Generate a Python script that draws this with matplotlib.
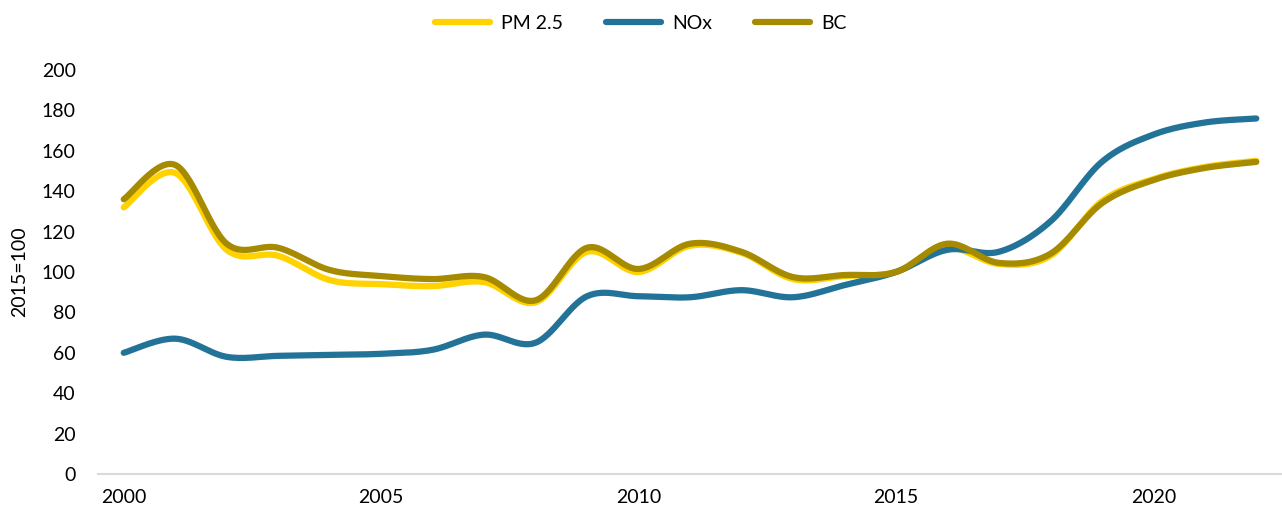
import numpy as np
import matplotlib
matplotlib.use("Agg")
import matplotlib.pyplot as plt

years = list(range(2000, 2023))
pm25 = [132, 149, 111, 108, 96, 94, 93, 95, 85, 110, 100, 113, 109.5, 96.5, 98, 100, 112, 104, 108, 135, 146, 152, 155]
nox = [60, 67, 58, 58.5, 59, 59.5, 61.5, 69, 65, 88, 88, 87.5, 91, 87.5, 93.5, 100, 111, 110, 125, 154.5, 168, 174, 176]
bc = [136, 153, 114, 112, 101, 98, 96.5, 97.5, 86, 112, 101.5, 114, 110, 97.5, 98.5, 100, 114, 104.5, 109, 134, 145.5, 151.5, 154.5]

series_names = ["PM 2.5", "NOx", "BC"]
colors = ["#FFD200", "#237399", "#A68A00"]
y_ticks = list(range(0, 201, 20))
x_ticks = [2000, 2005, 2010, 2015, 2020]


def smooth(x, y, n=30):
    x = np.asarray(x, float)
    y = np.asarray(y, float)
    px = np.concatenate([[x[0]], x, [x[-1]]])
    py = np.concatenate([[y[0]], y, [y[-1]]])
    xs, ys = [], []
    t = np.linspace(0, 1, n)
    for i in range(1, len(px) - 2):
        p0 = np.array([px[i], py[i]])
        p3 = np.array([px[i + 1], py[i + 1]])
        c1 = p0 + (np.array([px[i + 1], py[i + 1]]) - np.array([px[i - 1], py[i - 1]])) / 6
        c2 = p3 - (np.array([px[i + 2], py[i + 2]]) - np.array([px[i], py[i]])) / 6
        b = ((1 - t) ** 3)[:, None] * p0 + (3 * (1 - t) ** 2 * t)[:, None] * c1 \
            + (3 * (1 - t) * t ** 2)[:, None] * c2 + (t ** 3)[:, None] * p3
        xs.extend(b[:, 0])
        ys.extend(b[:, 1])
    return np.array(xs), np.array(ys)


plt.rcParams['font.family'] = ['Lato', 'DejaVu Sans']
fig = plt.figure(figsize=(12.82, 5.11), dpi=100)
ax = fig.add_axes([98 / 1282, 37 / 511, 1 - 98 / 1282, 404 / 511])

for name, vals, c in zip(series_names, [pm25, nox, bc], colors):
    sx, sy = smooth(years, vals)
    ax.plot(sx, sy, color=c, lw=4.5, solid_capstyle='round', label=name)

ax.set_xlim(1999.5, 2022.5)
ax.set_ylim(0, 200)
ax.set_yticks(y_ticks)
ax.set_xticks(x_ticks)
ax.tick_params(axis='both', length=0, labelsize=14, colors='black')
ax.tick_params(axis='y', pad=16)
ax.tick_params(axis='x', pad=11)
for s in ['top', 'right', 'left']:
    ax.spines[s].set_visible(False)
ax.spines['bottom'].set_color('#D9D9D9')
ax.spines['bottom'].set_linewidth(1.5)
ax.set_ylabel("2015=100", fontsize=14, labelpad=10)

leg = fig.legend(loc='upper center', bbox_to_anchor=(0.5, 1.005), ncol=3, frameon=False,
                 fontsize=14, handlelength=2.8, columnspacing=2.2, handletextpad=0.6)

fig.savefig("out.png", dpi=100)
